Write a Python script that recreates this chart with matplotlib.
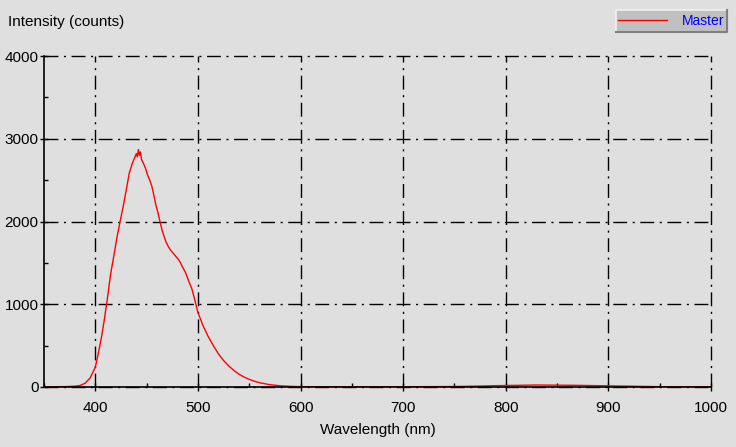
import matplotlib
matplotlib.use("Agg")
from matplotlib import pyplot as plt
from matplotlib.patches import Rectangle
from matplotlib.lines import Line2D
from matplotlib.ticker import MultipleLocator

# spectrum
wavelength = [350, 360, 370, 380, 385, 390, 395, 400, 403, 406, 409, 412, 415, 418,
              421, 424, 427, 430, 433, 436, 438, 440, 441, 442, 443, 444, 445, 447,
              449, 451, 453, 455, 457, 459, 461, 463, 465, 467, 469, 471, 473, 475,
              477, 479, 481, 483, 485, 488, 491, 494, 497, 500, 505, 510, 515, 520,
              525, 530, 535, 540, 545, 550, 555, 560, 570, 580, 590, 600, 620, 650,
              700, 750, 770, 790, 810, 830, 850, 870, 890, 910, 930, 950, 970, 1000]
intensity = [2, 3, 5, 10, 18, 45, 110, 240, 410, 600, 830, 1090, 1370, 1580,
             1800, 1990, 2170, 2370, 2580, 2700, 2760, 2820, 2780, 2870, 2800, 2840, 2750, 2700,
             2640, 2560, 2500, 2430, 2320, 2200, 2110, 2000, 1900, 1820, 1750, 1700, 1660, 1630,
             1600, 1570, 1540, 1500, 1450, 1380, 1280, 1190, 1050, 900, 740, 610, 500, 400,
             320, 255, 200, 155, 120, 92, 70, 52, 28, 15, 8, 4, 3, 2,
             3, 6, 10, 16, 20, 24, 22, 20, 16, 12, 8, 4, 2, 1]

series_name = "Master"
x_label = "Wavelength (nm)"
y_label = "Intensity (counts)"

bg = "#dfdfdf"
plt.rcParams['font.family'] = ['Liberation Sans', 'DejaVu Sans']

fig = plt.figure(figsize=(7.36, 4.47), dpi=100, facecolor=bg)
ax = fig.add_axes([44/736, 1-387/447, (711-44)/736, (387-56)/447])
ax.set_facecolor(bg)

ax.plot(wavelength, intensity, color="red", lw=1)

ax.set_xlim(350, 1000)
ax.set_ylim(0, 4000)
ax.xaxis.set_major_locator(MultipleLocator(100))
ax.xaxis.set_minor_locator(MultipleLocator(50))
ax.yaxis.set_major_locator(MultipleLocator(1000))
ax.yaxis.set_minor_locator(MultipleLocator(500))
ax.set_xticks([400, 500, 600, 700, 800, 900, 1000])
ax.set_yticks([0, 1000, 2000, 3000, 4000])

for s in ["top", "right"]:
    ax.spines[s].set_visible(False)
for s in ["left", "bottom"]:
    ax.spines[s].set_linewidth(1.2)

ax.tick_params(which="major", direction="inout", length=6, width=1, labelsize=11, pad=1)
ax.tick_params(axis="x", which="major", pad=7)
ax.tick_params(which="minor", direction="in", length=3, width=1)

ax.grid(True, which="major", color="black", lw=1, linestyle=(0, (10, 4, 1.5, 4)))
for gl in ax.get_xgridlines() + ax.get_ygridlines():
    gl.set_clip_on(False)

ax.set_xlabel(x_label, fontsize=11, labelpad=6)
fig.text(8/736, 1-22/447, y_label, fontsize=11, va="center", ha="left")

# legend box with a raised 3D edge
W, H = 736, 447
lx0, lx1, ly0, ly1 = 616, 727, 10, 32
tf = fig.transFigure
fig.patches.append(Rectangle((lx0/W, 1-ly1/H), (lx1-lx0)/W, (ly1-ly0)/H, transform=tf,
                             facecolor="#c0c0c0", edgecolor="none"))
fig.lines.append(Line2D([lx0/W, lx0/W, lx1/W], [1-ly1/H, 1-ly0/H, 1-ly0/H], transform=tf,
                        color="#f0f0f0", lw=1.2))
fig.lines.append(Line2D([lx0/W, lx1/W, lx1/W], [1-ly1/H, 1-ly1/H, 1-ly0/H], transform=tf,
                        color="#808080", lw=1.5))
fig.lines.append(Line2D([618/W, 667/W], [1-20/H, 1-20/H], transform=tf, color="red", lw=1))
fig.text(682/W, 1-21/H, series_name, color="blue", fontsize=10, va="center", ha="left")

fig.savefig("out.png", dpi=100, facecolor=bg)
